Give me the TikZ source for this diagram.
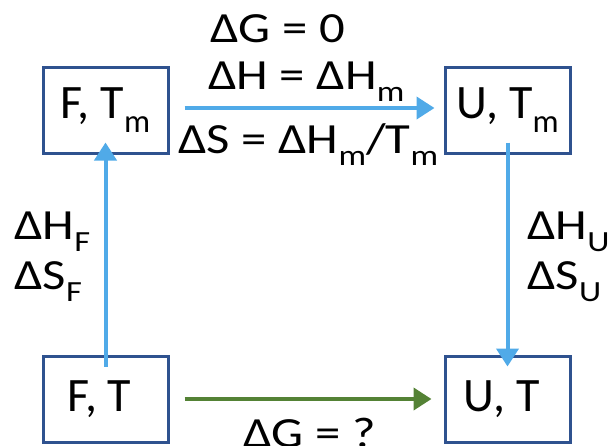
\documentclass[tikz,border=0pt]{standalone}
\usepackage{fontspec}
\setmainfont{Carlito}
\newfontfamily\labfont[FakeStretch=1.18]{Carlito}
\newfontfamily\boxfont{Carlito}
\usetikzlibrary{arrows.meta}
\definecolor{boxblue}{RGB}{47,82,143}
\definecolor{arrblue}{RGB}{80,170,232}
\definecolor{arrgreen}{RGB}{84,130,53}
\newcommand\lowsub[1]{\raisebox{-0.3em}{\scalebox{0.68}{#1}}}
\tikzset{
  statebox/.style={draw=boxblue, line width=3pt, minimum width=125pt, minimum height=86pt, inner sep=0pt, font=\boxfont\fontsize{48}{53}\selectfont},
  lab/.style={inner sep=0pt, font=\labfont\fontsize{43}{48}\selectfont},
  bluearr/.style={draw=arrblue, line width=4pt, -{Triangle[length=18pt,width=22pt]}},
  greenarr/.style={draw=arrgreen, line width=4pt, -{Triangle[length=18pt,width=22pt]}}
}
\begin{document}
\begin{tikzpicture}[x=1pt,y=-1pt]
\useasboundingbox (0,0) rectangle (612,445);
\node[statebox] (FTm) at (105.5,110) {F, T\lowsub{m}};
\node[statebox] (UTm) at (507.5,110) {U, T\lowsub{m}};
\node[statebox] (FT) at (105.5,399) {F, T\rule{12pt}{0pt}};
\node[statebox] (UT) at (507.5,399) {U, T\rule{12pt}{0pt}};
\draw[bluearr] ([xshift=15pt,yshift=2pt]FTm.east) -- ([xshift=-9pt,yshift=2pt]UTm.west);
\draw[greenarr] ([xshift=15pt]FT.east) -- ([xshift=-12pt]UT.west);
\draw[bluearr] ([yshift=-12pt]FT.north) -- ([yshift=12pt]FTm.south);
\draw[bluearr] ([yshift=12pt]UTm.south) -- ([yshift=-12pt]UT.north);
\node[lab,anchor=base west] (dg0) at (210,42) {ΔG = 0};
\node[lab,anchor=base west] (dh) at (208,89) {ΔH = ΔH\lowsub{m}};
\node[lab,anchor=base west] (ds) at (178,153) {ΔS = ΔH\lowsub{m}/T\lowsub{m}};
\node[lab,anchor=base west] (dhf) at (14,239) {ΔH\lowsub{F}};
\node[lab,anchor=base west] (dsf) at (14,289) {ΔS\lowsub{F}};
\node[lab,anchor=base west] (dhu) at (527,239) {ΔH\lowsub{U}};
\node[lab,anchor=base west] (dsu) at (527,289) {ΔS\lowsub{U}};
\node[lab,anchor=base west] (dgq) at (243,447) {ΔG = ?};
\end{tikzpicture}
\end{document}
